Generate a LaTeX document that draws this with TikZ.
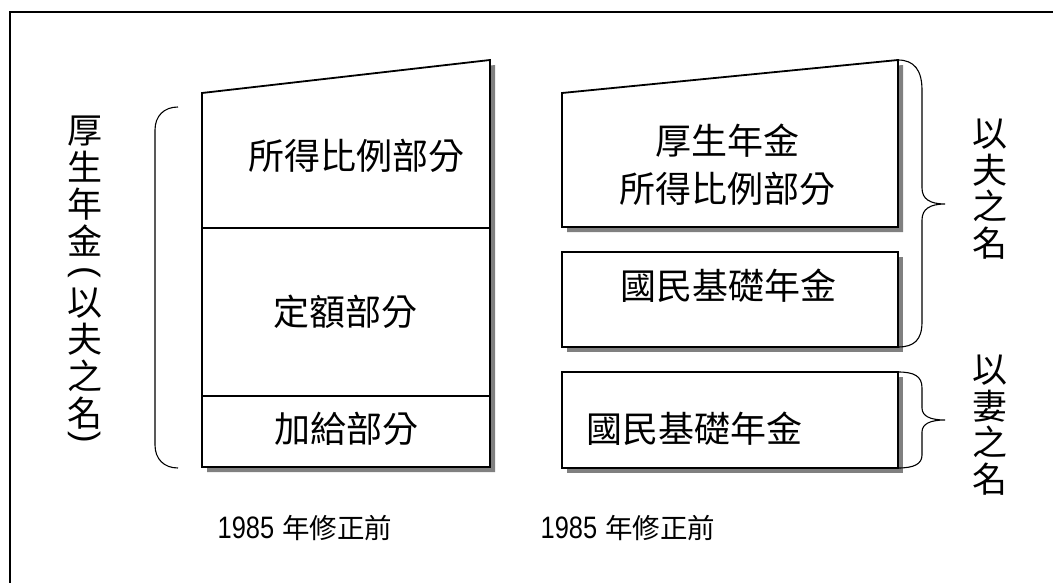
\documentclass[tikz,border=0pt]{standalone}
\usepackage{fontspec}
\usepackage{graphicx}
\setmainfont{Liberation Sans}
\newfontfamily\cjk{Noto Sans CJK TC}
\newfontfamily\narrowf[FakeStretch=0.82]{Liberation Sans}
\newfontfamily\arialf{Liberation Sans}
\tikzset{
  frameline/.style={line width=2.2pt, line cap=rect},
  boxshape/.style={draw=black, line width=1.8pt, fill=white, line join=miter},
  shadowshape/.style={fill=black!50, draw=none},
  bracel/.style={line width=1.1pt},
  lbl/.style={font=\cjk\fontsize{36}{48}\selectfont, inner sep=0pt, align=center},
  vlbl/.style={font=\cjk\fontsize{35}{36.5}\selectfont, inner sep=0pt, align=center},
  yearlbl/.style={inner sep=0pt, font=\fontsize{31}{31}\selectfont},
}
\newcommand{\rparen}[1]{\rotatebox[origin=c]{-90}{\arialf #1}}
\newcommand{\yeartext}{{\narrowf 1985}\hspace{8pt}{\cjk\fontsize{27.5}{30}\selectfont 年修正前}}
\begin{document}
\begin{tikzpicture}[x=1pt,y=-1pt]
\useasboundingbox (0,0) rectangle (1053,583);
\fill[white] (0,0) rectangle (1053,583);
% outer frame (only top and left visible)
\draw[frameline] (10,583) -- (10,12) -- (1053,12);

% ---- left box ----
\fill[shadowshape] (207,98) -- (495,65) -- (495,472) -- (207,472) -- cycle;
\draw[boxshape] (202,93) -- (490,60) -- (490,467) -- (202,467) -- cycle;
\draw[line width=1.8pt] (202,228) -- (490,228);
\draw[line width=1.8pt] (202,396) -- (490,396);

% ---- right boxes ----
\fill[shadowshape] (567,98) -- (903,65) -- (903,232) -- (567,232) -- cycle;
\draw[boxshape] (562,93) -- (898,60) -- (898,227) -- (562,227) -- cycle;
\fill[shadowshape] (567,257) rectangle (903,352);
\draw[boxshape] (562,252) rectangle (898,347);
\fill[shadowshape] (567,377) rectangle (903,473);
\draw[boxshape] (562,372) rectangle (898,468);

% ---- left bracket ----
\draw[bracel] (178,107) .. controls (164,107) and (155,116) .. (155,130)
  -- (155,445) .. controls (155,459) and (164,468) .. (178,468);

% ---- right braces ----
\draw[bracel] (898,60) .. controls (914,60) and (922,70) .. (922,90)
  -- (922,188) .. controls (922,199) and (930,204) .. (945,204)
  .. controls (930,204) and (922,209) .. (922,220)
  -- (922,322) .. controls (922,340) and (914,347) .. (898,347);
\draw[bracel] (898,372) .. controls (914,372) and (922,376) .. (922,388)
  -- (922,408) .. controls (922,416) and (930,420) .. (945,420)
  .. controls (930,420) and (922,424) .. (922,432)
  -- (922,455) .. controls (922,464) and (914,468) .. (898,468);

% ---- texts ----
\node[lbl] (t1) at (356,156) {所得比例部分};
\node[lbl] (t2) at (345,312) {定額部分};
\node[lbl] (t3) at (346,429) {加給部分};
\node[lbl] (t4) at (727,165) {厚生年金\\所得比例部分};
\node[lbl] (t5) at (728,286) {國民基礎年金};
\node[lbl] (t6) at (694,429) {國民基礎年金};
\node[vlbl] (v1) at (990,189) {以\\夫\\之\\名};
\node[vlbl] (v2) at (990,425) {以\\妻\\之\\名};
\node[vlbl, font=\cjk\fontsize{35}{37}\selectfont] (v3) at (85,281)
  {厚\\生\\年\\金\\[-10pt]\rparen{(}\\[-3pt]以\\夫\\之\\名\\[-17pt]\rparen{)}};
\node[yearlbl] (y1) at (305,528) {\yeartext};
\node[yearlbl] (y2) at (628,528) {\yeartext};
\end{tikzpicture}
\end{document}
